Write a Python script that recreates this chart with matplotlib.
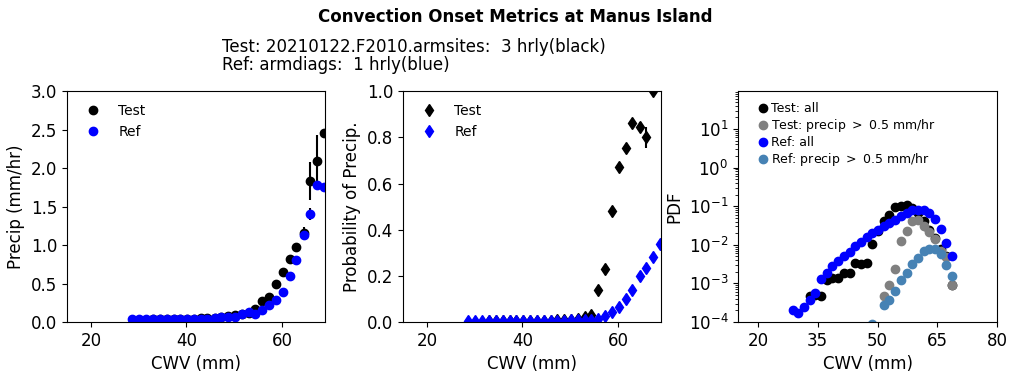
import numpy as np
import matplotlib
matplotlib.use('Agg')
import matplotlib.pyplot as plt

# CWV bin centres (mm)
cwv = [28.7, 30.1, 31.6, 33.0, 34.4, 35.9, 37.3, 38.7, 40.1, 41.6,
       43.0, 44.4, 45.9, 47.3, 48.7, 50.2, 51.6, 53.0, 54.4, 55.9,
       57.3, 58.7, 60.2, 61.6, 63.0, 64.5, 65.9, 67.3, 68.7]
nan = np.nan

# conditional mean precip (mm/hr)
pr_test = [nan, nan, nan, 0.04, 0.04, 0.04, 0.04, 0.04, 0.04, 0.04,
           0.05, 0.05, 0.05, 0.07, 0.08, 0.09, 0.11, 0.12, 0.17, 0.27,
           0.33, 0.50, 0.65, 0.82, 0.98, 1.16, 1.83, 2.09, 2.45]
pr_test_err = [0, 0, 0, 0, 0, 0, 0, 0, 0, 0,
               0, 0, 0, 0, 0, 0, 0, 0, 0, 0,
               0, 0, 0.01, 0.02, 0.03, 0.08, 0.25, 0.34, 0]
pr_ref = [0.043, 0.045, 0.045, 0.045, 0.045, 0.045, 0.045, 0.043, 0.043, 0.043,
          0.045, 0.045, 0.05, 0.07, 0.07, 0.07, 0.10, 0.13, 0.10, 0.155,
          0.22, 0.29, 0.39, 0.60, 0.80, 1.13, 1.40, 1.78, 1.76]
pr_ref_err = [0, 0, 0, 0, 0, 0, 0, 0, 0, 0,
              0, 0, 0, 0, 0, 0, 0, 0, 0, 0,
              0, 0, 0, 0, 0.02, 0.03, 0.08, 0.03, 0.03]

# probability of precip
prob_test = [nan, nan, nan, 0.003, 0.003, 0.003, 0.003, 0.003, 0.004, 0.004,
             0.005, 0.005, 0.006, 0.007, 0.008, 0.01, 0.015, 0.02, 0.03, 0.14,
             0.228, 0.48, 0.67, 0.755, 0.86, 0.845, 0.80, 1.0, nan]
prob_test_err = [0, 0, 0, 0, 0, 0, 0, 0, 0, 0,
                 0, 0, 0, 0, 0, 0, 0, 0, 0, 0,
                 0, 0, 0, 0, 0.01, 0.02, 0.045, 0.0, 0]
prob_ref = [0.003, 0.003, 0.003, 0.003, 0.003, 0.003, 0.003, 0.003, 0.003, 0.004,
            0.004, 0.004, 0.005, 0.005, 0.006, 0.007, 0.008, 0.009, 0.01, 0.014,
            0.027, 0.043, 0.066, 0.10, 0.138, 0.20, 0.235, 0.283, 0.336]

# PDFs (log10)
lpdf_test = [nan, nan, nan, -3.32, -3.30, -3.32, -2.90, -2.87, -2.87, -2.74,
             -2.74, -2.48, -2.49, -2.47, -1.97, -1.65, -1.38, -1.22, -1.02, -1.00,
             -0.96, -1.04, -1.18, -1.38, -1.63, -1.83, -2.10, -2.30, -3.04]
lpdf_test_pr = [nan, nan, nan, nan, nan, nan, nan, nan, nan, nan,
                nan, nan, nan, nan, nan, nan, -3.32, -3.03, -2.63, -1.90,
                -1.64, -1.38, -1.35, -1.52, -1.68, -1.84, -2.15, -2.32, -3.04]
lpdf_ref = [-3.69, -3.76, -3.60, -3.43, -3.25, -2.88, -2.73, -2.55, -2.42, -2.28,
            -2.18, -2.03, -1.92, -1.80, -1.70, -1.61, -1.52, -1.44, -1.35, -1.26,
            -1.19, -1.11, -1.09, -1.11, -1.18, -1.34, -1.59, -1.96, -2.29]
lpdf_ref_pr = [nan, nan, nan, nan, nan, nan, nan, nan, nan, nan,
               nan, nan, nan, nan, -4.05, nan, -3.56, -3.43, -3.19, -2.91,
               -2.72, -2.51, -2.34, -2.17, -2.12, -2.12, -2.24, -2.53, -2.80]

cwv = np.array(cwv)

plt.rcParams['font.size'] = 12
fig = plt.figure(figsize=(10.17, 3.86), dpi=100)
ax1 = fig.add_axes([0.0659, 0.1658, 0.2537, 0.598])
ax2 = fig.add_axes([0.3963, 0.1658, 0.2537, 0.598])
ax3 = fig.add_axes([0.7257, 0.1658, 0.2547, 0.598])

fig.text(0.507, 0.955, 'Convection Onset Metrics at Manus Island',
         ha='center', va='center', fontweight='bold')
fig.text(0.218, 0.878, 'Test: 20210122.F2010.armsites:  3 hrly(black)', va='center')
fig.text(0.218, 0.832, 'Ref: armdiags:  1 hrly(blue)', va='center')

# precip vs cwv
ax1.errorbar(cwv, pr_test, yerr=pr_test_err, fmt='none', ecolor='k', lw=1.5)
ax1.plot(cwv, pr_test, 'o', color='k', ms=6, label='Test')
ax1.errorbar(cwv, pr_ref, yerr=pr_ref_err, fmt='none', ecolor='k', lw=1.5)
ax1.plot(cwv, pr_ref, 'o', color='b', ms=6, label='Ref')
ax1.set_xlim(15, 69)
ax1.set_ylim(0, 3)
ax1.set_xlabel('CWV (mm)')
ax1.set_ylabel('Precip (mm/hr)')
ax1.legend(loc='upper left', frameon=False, fontsize=10)

# probability of precip
ax2.errorbar(cwv, prob_test, yerr=prob_test_err, fmt='none', ecolor='k', lw=1.5)
ax2.plot(cwv, prob_test, 'd', color='k', ms=6, label='Test')
ax2.plot(cwv, prob_ref, 'd', color='b', ms=6, label='Ref')
ax2.set_xlim(15, 69)
ax2.set_ylim(0, 1)
ax2.set_xlabel('CWV (mm)')
ax2.set_ylabel('Probability of Precip.')
ax2.legend(loc='upper left', frameon=False, fontsize=10)

# pdf
ax3.plot(cwv, 10 ** np.array(lpdf_test), 'o', color='k', ms=6, label='Test: all')
ax3.plot(cwv, 10 ** np.array(lpdf_test_pr), 'o', color='grey', ms=6,
         label='Test: precip $>$ 0.5 mm/hr')
ax3.plot(cwv, 10 ** np.array(lpdf_ref), 'o', color='b', ms=6, label='Ref: all')
ax3.plot(cwv, 10 ** np.array(lpdf_ref_pr), 'o', color='steelblue', ms=6,
         label='Ref: precip $>$ 0.5 mm/hr')
ax3.set_yscale('log')
ax3.set_xlim(15, 80)
ax3.set_ylim(1e-4, 95)
ax3.set_xticks([20, 35, 50, 65, 80])
ax3.set_xlabel('CWV (mm)')
ax3.set_ylabel('PDF')
ax3.legend(loc='upper left', frameon=False, fontsize=9, handlelength=0.6,
           handletextpad=0.3, labelspacing=0.15, bbox_to_anchor=(0.04, 1.0))

fig.savefig('out.png', dpi=100)
